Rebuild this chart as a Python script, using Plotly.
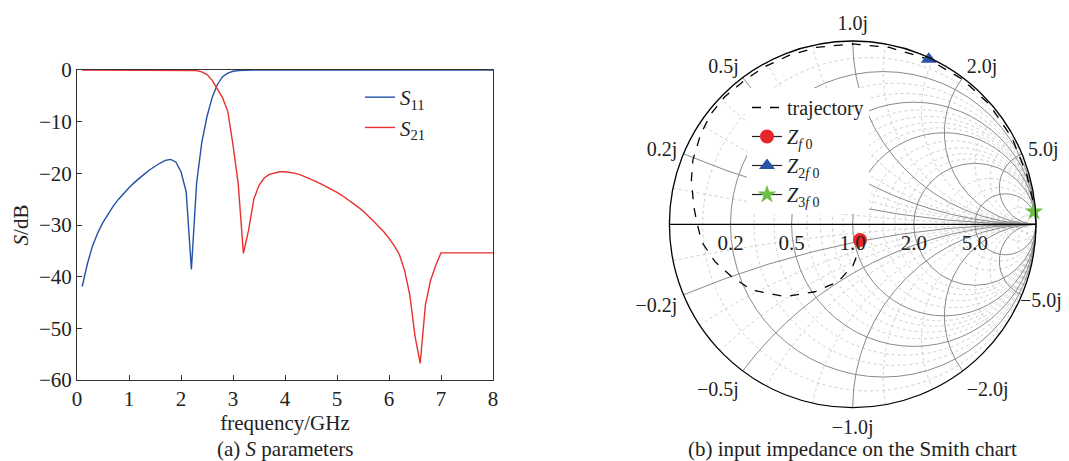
import numpy as np
import plotly.graph_objects as go

# ---------------- data: (a) S parameters ----------------
s11_freq = [0.1, 0.2, 0.3, 0.4, 0.5, 0.6, 0.7, 0.8, 0.9, 1.0, 1.1, 1.2, 1.3, 1.4, 1.5,
            1.6, 1.7, 1.8, 1.9, 2.0, 2.1, 2.2, 2.3, 2.4, 2.5, 2.6, 2.7, 2.8, 2.9, 3.0,
            3.1, 3.2, 3.3, 3.4, 4.0, 5.0, 6.0, 7.0, 8.0]
s11_db = [-41.9, -37.5, -34.0, -31.5, -29.5, -27.8, -26.3, -25.0, -23.8, -22.8, -21.8,
          -20.9, -20.1, -19.3, -18.6, -18.0, -17.5, -17.3, -17.8, -19.7, -23.6, -38.6,
          -21.9, -14.0, -9.0, -5.3, -2.8, -1.3, -0.6, -0.25, -0.1, -0.05, -0.02, -0.01,
          0.0, 0.0, 0.0, 0.0, 0.0]

s21_freq = [0.1, 1.0, 2.0, 2.2, 2.3, 2.4, 2.5, 2.6, 2.7, 2.8, 2.9, 3.0, 3.1, 3.2, 3.3,
            3.4, 3.5, 3.6, 3.7, 3.8, 3.9, 4.0, 4.1, 4.2, 4.3, 4.4, 4.5, 4.6, 4.7, 4.8,
            4.9, 5.0, 5.1, 5.2, 5.3, 5.4, 5.5, 5.6, 5.7, 5.8, 5.9, 6.0, 6.1, 6.2, 6.3,
            6.4, 6.5, 6.6, 6.7, 6.8, 6.9, 7.0, 8.0]
s21_db = [-0.02, -0.01, -0.02, -0.05, -0.1, -0.35, -0.9, -2.0, -3.7, -5.4, -8.0, -14.5,
          -22.0, -35.5, -31.0, -25.0, -22.3, -20.9, -20.2, -19.9, -19.7, -19.7, -19.8,
          -20.0, -20.3, -20.7, -21.1, -21.6, -22.1, -22.6, -23.1, -23.7, -24.3, -25.0,
          -25.7, -26.5, -27.3, -28.2, -29.2, -30.3, -31.3, -32.6, -34.0, -35.7, -38.8,
          -43.5, -51.5, -56.8, -45.5, -40.7, -37.8, -35.4, -35.4]

x_ticks = [0, 1, 2, 3, 4, 5, 6, 7, 8]
y_ticks = [0, -10, -20, -30, -40, -50, -60]

# ---------------- data: (b) input impedance trajectory (reflection coefficient) ----
gamma_re = [0.040, 0.031, 0.003, -0.079, -0.206, -0.369, -0.551, -0.660, -0.751, -0.824,
            -0.851, -0.867, -0.880, -0.872, -0.830, -0.775, -0.698, -0.589, -0.480, -0.350,
            -0.200, 0.000, 0.200, 0.415, 0.600, 0.745, 0.870, 0.950, 0.985, 0.989]
gamma_im = [-0.086, -0.149, -0.222, -0.313, -0.368, -0.395, -0.358, -0.286, -0.204, -0.095,
            0.014, 0.096, 0.242, 0.350, 0.490, 0.600, 0.696, 0.787, 0.860, 0.920,
            0.965, 0.984, 0.965, 0.900, 0.790, 0.655, 0.470, 0.270, 0.120, 0.069]
# markers: Z_f0, Z_2f0, Z_3f0 (reflection coefficient)
mark_re = [0.040, 0.415, 0.989]
mark_im = [-0.086, 0.900, 0.069]

major_r = [0.2, 0.5, 1.0, 2.0, 5.0]
major_x = [-5.0, -2.0, -1.0, -0.5, -0.2, 0.2, 0.5, 1.0, 2.0, 5.0]
minor_r = [0.1, 0.3, 0.4, 0.6, 0.7, 0.8, 0.9, 1.2, 1.4, 1.6, 1.8, 3.0, 4.0, 10.0, 20.0]
minor_x = [-20.0, -10.0, -4.0, -3.0, -1.6, -1.2, -0.8, -0.6, -0.4, -0.3, -0.1,
           0.1, 0.3, 0.4, 0.6, 0.8, 1.2, 1.6, 3.0, 4.0, 10.0, 20.0]

g = np.array(gamma_re) + 1j * np.array(gamma_im)
z = (1 + g) / (1 - g)
gm = np.array(mark_re) + 1j * np.array(mark_im)
zm = (1 + gm) / (1 - gm)

FONT = "Liberation Serif"
FS = 21
OFF = 8  # page body margin of the written html
W, H = 1069 - OFF, 461 - OFF


def px(x):
    return (x - OFF) / W


def py(y):
    return 1 - (y - OFF) / H


fig = go.Figure()

fig.add_trace(go.Scatter(x=s11_freq, y=s11_db, mode="lines", name="<i>S</i><sub>11</sub>",
                         line=dict(color="#2352a8", width=1.4), legend="legend"))
fig.add_trace(go.Scatter(x=s21_freq, y=s21_db, mode="lines", name="<i>S</i><sub>21</sub>",
                         line=dict(color="#e8312f", width=1.4), legend="legend"))

# invisible anchor trace for the dotted background smith grid
fig.add_trace(go.Scattersmith(real=[1.0], imag=[0.0], mode="markers", subplot="smith",
                              marker=dict(opacity=0), showlegend=False, hoverinfo="skip"))

fig.add_trace(go.Scattersmith(real=z.real, imag=z.imag, mode="lines", subplot="smith2",
                              name="trajectory", legend="legend2",
                              line=dict(color="black", width=1.3, dash="dash")))
names = ["<i>Z</i><sub><i>f</i> 0</sub>", "<i>Z</i><sub>2<i>f</i> 0</sub>",
         "<i>Z</i><sub>3<i>f</i> 0</sub>"]
symbols = ["circle", "triangle-up", "star"]
colors = ["#e8262a", "#2a54a4", "#6cbd45"]
for i in range(3):
    fig.add_trace(go.Scattersmith(real=[zm.real[i]], imag=[zm.imag[i]], mode="lines+markers",
                                  subplot="smith2", name=names[i], legend="legend2",
                                  line=dict(color="#222222", width=1.2),
                                  marker=dict(symbol=symbols[i], color=colors[i], size=14,
                                              line=dict(width=0))))

CX, CY, R = 852.7, 224.3, 183.3
dom_x = [px(CX - R), px(CX + R)]
dom_y = [py(CY + R), py(CY - R)]

fig.update_layout(
    width=W, height=H, autosize=False,
    margin=dict(l=0, r=0, t=0, b=0, autoexpand=False),
    paper_bgcolor="white", plot_bgcolor="white",
    font=dict(family=FONT, size=FS, color="#222"),
    xaxis=dict(domain=[px(77), px(493)], range=[0, 8], tickvals=x_ticks,
               ticks="inside", ticklen=5, tickcolor="#333", showline=True, mirror=True,
               linecolor="#333", linewidth=1, showgrid=False, zeroline=False,
               automargin=False,
               title=dict(text="frequency/GHz", standoff=0, font=dict(size=FS))),
    yaxis=dict(domain=[py(380), py(70)], range=[-60, 0], tickvals=y_ticks,
               ticks="inside", ticklen=5, tickcolor="#333", showline=True, mirror=True,
               linecolor="#333", linewidth=1, showgrid=False, zeroline=False,
               automargin=False,
               title=dict(text="<i>S</i>/dB", standoff=4, font=dict(size=FS))),
    legend=dict(x=px(360), y=py(77), xanchor="left", yanchor="top",
                bgcolor="rgba(0,0,0,0)", font=dict(size=FS, family=FONT)),
    legend2=dict(x=px(747), y=py(88), xanchor="left", yanchor="top",
                 bgcolor="white", font=dict(size=20, family=FONT)),
    smith=dict(domain=dict(x=dom_x, y=dom_y), bgcolor="white",
               realaxis=dict(tickvals=minor_r, showgrid=True, gridcolor="#cfcfcf",
                             griddash="dot", gridwidth=1, showticklabels=False,
                             showline=False, ticks=""),
               imaginaryaxis=dict(tickvals=minor_x, showgrid=True, gridcolor="#cfcfcf",
                                  griddash="dot", gridwidth=1, showticklabels=False,
                                  showline=False, ticks="")),
    smith2=dict(domain=dict(x=dom_x, y=dom_y), bgcolor="rgba(0,0,0,0)",
                realaxis=dict(tickvals=major_r, tickformat=".1f", tickangle=0,
                              showgrid=True, gridcolor="#8a8a8a", gridwidth=1.2,
                              showline=True, linecolor="black", linewidth=1.3,
                              side="bottom", ticks="",
                              tickfont=dict(size=FS, family=FONT)),
                imaginaryaxis=dict(tickvals=major_x, tickformat=".1f", ticksuffix="j",
                                   labelalias={"−5.0": "", "-5.0": "", "−5.0j": "",
                                               "-5.0j": ""},
                                   showgrid=True, gridcolor="#8a8a8a", gridwidth=1.2,
                                   showline=True, linecolor="black", linewidth=1.3,
                                   ticks="outside", ticklen=2, tickcolor="rgba(0,0,0,0)",
                                   tickfont=dict(size=20, family=FONT))),
    shapes=[
        # hide the automatic infinity label at the right end of the real axis
        dict(type="rect", xref="paper", yref="paper", x0=px(1042), x1=px(1069),
             y0=py(242), y1=py(214), fillcolor="white", line=dict(width=0), layer="above"),
    ],
    annotations=[
        # -5.0j label re-placed so that it stays inside the page
        dict(text="−5.0j", x=px(1064), y=py(300), xref="paper", yref="paper",
             showarrow=False, xanchor="right", yanchor="middle",
             font=dict(size=20, family=FONT)),
        dict(text="(a) <i>S</i> parameters", x=px(285), y=py(449), xref="paper",
             yref="paper", showarrow=False, xanchor="center", yanchor="middle",
             font=dict(size=FS, family=FONT)),
        dict(text="(b) input impedance on the Smith chart", x=px(852.7),
             y=py(449), xref="paper", yref="paper", showarrow=False,
             xanchor="center", yanchor="middle", font=dict(size=FS, family=FONT)),
    ],
)

fig.write_html("out.html")
